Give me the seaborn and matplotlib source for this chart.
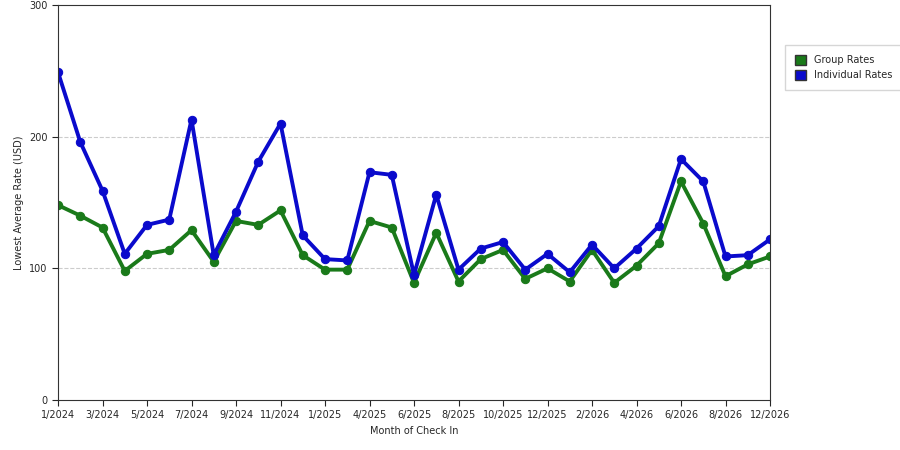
import pandas as pd
import seaborn as sns
import matplotlib.pyplot as plt
from matplotlib.patches import Patch

months = ['1/2024', '2/2024', '3/2024', '4/2024', '5/2024', '6/2024', '7/2024', '8/2024',
          '9/2024', '10/2024', '11/2024', '12/2024', '1/2025', '2/2025', '4/2025', '5/2025',
          '6/2025', '7/2025', '8/2025', '9/2025', '10/2025', '11/2025', '12/2025', '1/2026',
          '2/2026', '3/2026', '4/2026', '5/2026', '6/2026', '7/2026', '8/2026', '10/2026', '12/2026']
group_rates = [148, 140, 131, 98, 111, 114, 129, 105, 136, 133, 144, 110, 99, 99, 136, 131,
               89, 127, 90, 107, 114, 92, 100, 90, 114, 89, 102, 119, 166, 134, 94, 103, 109]
individual_rates = [249, 196, 159, 111, 133, 137, 213, 110, 143, 181, 210, 125, 107, 106, 173, 171,
                    95, 156, 99, 115, 120, 99, 111, 97, 118, 100, 115, 132, 183, 166, 109, 110, 122]

df = pd.DataFrame({'i': range(len(months)), 'Group Rates': group_rates,
                   'Individual Rates': individual_rates})

sns.set_style('white')
plt.rcParams['font.family'] = ['DejaVu Sans']
fig = plt.figure(figsize=(9, 4.5), dpi=100)
ax = fig.add_axes([58 / 900, 50 / 450, 712 / 900, 395 / 450])

colors = {'Group Rates': '#1a7a1a', 'Individual Rates': '#0a0acc'}
for col in ['Group Rates', 'Individual Rates']:
    sns.lineplot(data=df, x='i', y=col, ax=ax, color=colors[col], linewidth=2.8,
                 marker='o', markersize=6, markeredgecolor=colors[col], markerfacecolor=colors[col])

ax.set_xlim(0, len(months) - 1)
ax.set_ylim(0, 300)
ax.set_yticks([0, 100, 200, 300])
ticks = list(range(0, len(months), 2))
ax.set_xticks(ticks)
ax.set_xticklabels([months[t] for t in ticks])
ax.tick_params(labelsize=7, length=4, direction='out', left=True, bottom=True)
for y in [100, 200]:
    ax.axhline(y, color='#cccccc', linestyle='--', linewidth=0.8, zorder=0)
for s in ax.spines.values():
    s.set_color('#333333')
    s.set_linewidth(0.8)
ax.set_xlabel('Month of Check In', fontsize=7)
ax.set_ylabel('Lowest Average Rate (USD)', fontsize=7)

handles = [Patch(facecolor=colors[c], edgecolor='#333333', label=c) for c in colors]
fig.legend(handles=handles, loc='upper left', bbox_to_anchor=(780 / 900, 1 - 40 / 450),
           fontsize=7, frameon=True, edgecolor='#cccccc', fancybox=False,
           handlelength=1.2, handleheight=1.2, borderpad=1)

fig.savefig('out.png')
